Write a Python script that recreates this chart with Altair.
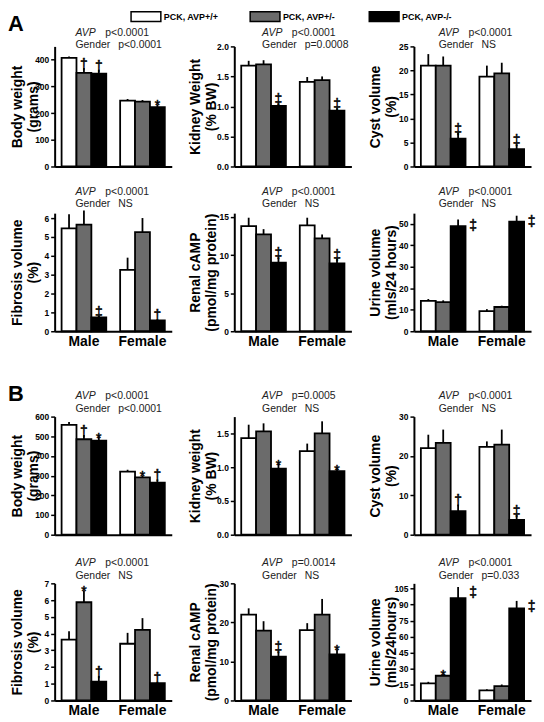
import altair as alt
import pandas as pd

GENOTYPES = ["PCK, AVP+/+", "PCK, AVP+/-", "PCK, AVP-/-"]
SEXES = ["Male", "Female"]
FILLS = ["#ffffff", "#6b6b6b", "#000000"]
FONT = "Liberation Sans"

# values order: Male +/+, Male +/-, Male -/-, Female +/+, Female +/-, Female -/-
# ---------------- Section A ----------------
body_a = [407, 351, 348, 247, 243, 222]
body_a_err = [5, 18, 15, 6, 6, 11]
body_a_sig = ["", "†", "†", "", "", "*"]

kidney_a = [1.68, 1.70, 1.01, 1.41, 1.44, 0.93]
kidney_a_err = [0.08, 0.07, 0.04, 0.08, 0.06, 0.04]
kidney_a_sig = ["", "", "‡", "", "", "‡"]

cyst_a = [21.0, 21.0, 5.8, 18.7, 19.4, 3.6]
cyst_a_err = [2.4, 1.9, 1.2, 2.3, 2.2, 1.0]
cyst_a_sig = ["", "", "‡", "", "", "‡"]

fib_a = [5.45, 5.65, 0.73, 3.25, 5.25, 0.58]
fib_a_err = [0.75, 0.75, 0.08, 0.65, 0.75, 0.06]
fib_a_sig = ["", "", "‡", "", "", "†"]

camp_a = [13.8, 12.7, 9.0, 13.9, 12.2, 8.9]
camp_a_err = [1.1, 0.7, 0.7, 1.0, 0.5, 0.6]
camp_a_sig = ["", "", "‡", "", "", "‡"]

urine_a = [14.1, 13.6, 49.0, 9.4, 11.3, 51.0]
urine_a_err = [0.9, 0.8, 3.0, 0.9, 0.6, 2.8]
urine_a_sig = ["", "", "‡", "", "", "‡"]

# ---------------- Section B ----------------
body_b = [558, 485, 478, 320, 291, 264]
body_b_err = [14, 22, 20, 10, 10, 17]
body_b_sig = ["", "†", "*", "", "*", "†"]

kidney_b = [1.43, 1.53, 0.98, 1.24, 1.50, 0.94]
kidney_b_err = [0.2, 0.12, 0.07, 0.11, 0.18, 0.04]
kidney_b_sig = ["", "", "*", "", "", "*"]

cyst_b = [22.0, 23.3, 6.0, 22.3, 22.9, 3.75]
cyst_b_err = [3.4, 3.4, 1.7, 1.4, 3.8, 1.25]
cyst_b_sig = ["", "", "†", "", "", "‡"]

fib_b = [3.63, 5.87, 1.12, 3.39, 4.22, 1.04]
fib_b_err = [0.5, 0.7, 0.35, 0.65, 0.7, 0.08]
fib_b_sig = ["", "*", "†", "", "", "†"]

camp_b = [22.0, 17.9, 11.2, 18.0, 22.0, 11.8]
camp_b_err = [1.6, 2.4, 1.4, 1.8, 4.0, 1.3]
camp_b_sig = ["", "", "‡", "", "", "*"]

urine_b = [16.0, 23.2, 96.0, 9.5, 13.5, 86.5]
urine_b_err = [1.5, 1.5, 10.5, 1.0, 1.5, 7.0]
urine_b_sig = ["", "*", "‡", "", "", "‡"]

# axis titles, tick values, p-value annotations
panels = [
    [
        dict(v=body_a, e=body_a_err, s=body_a_sig, title=["Body weight", "(grams)"],
             dmax=450, ticks=[0, 100, 200, 300, 400], fmt="d", avp="p<0.0001", gen="p<0.0001", label="A"),
        dict(v=kidney_a, e=kidney_a_err, s=kidney_a_sig, title=["Kidney Weight", "(% BW)"],
             dmax=2.0, ticks=[0, 0.5, 1.0, 1.5, 2.0], fmt=".1f", avp="p<0.0001", gen="p=0.0008"),
        dict(v=cyst_a, e=cyst_a_err, s=cyst_a_sig, title=["Cyst volume", "(%)"],
             dmax=25, ticks=[0, 5, 10, 15, 20, 25], fmt="d", avp="p<0.0001", gen="NS"),
    ],
    [
        dict(v=fib_a, e=fib_a_err, s=fib_a_sig, title=["Fibrosis volume", "(%)"],
             dmax=6.26, ticks=[0, 1, 2, 3, 4, 5, 6], fmt="d", avp="p<0.0001", gen="NS"),
        dict(v=camp_a, e=camp_a_err, s=camp_a_sig, title=["Renal cAMP", "(pmol/mg protein)"],
             dmax=15.5, ticks=[0, 5, 10, 15], fmt="d", avp="p<0.0001", gen="NS"),
        dict(v=urine_a, e=urine_a_err, s=urine_a_sig, title=["Urine volume", "(mls/24 hours)"],
             dmax=55, ticks=[0, 10, 20, 30, 40, 50], fmt="d", avp="p<0.0001", gen="NS", right=True),
    ],
    [
        dict(v=body_b, e=body_b_err, s=body_b_sig, title=["Body weight", "(grams)"],
             dmax=600, ticks=[0, 100, 200, 300, 400, 500, 600], fmt="d", avp="p<0.0001", gen="p<0.0001", label="B"),
        dict(v=kidney_b, e=kidney_b_err, s=kidney_b_sig, title=["Kidney weight", "(% BW)"],
             dmax=1.75, ticks=[0, 0.5, 1.0, 1.5], fmt=".1f", avp="p=0.0005", gen="NS"),
        dict(v=cyst_b, e=cyst_b_err, s=cyst_b_sig, title=["Cyst volume", "(%)"],
             dmax=30, ticks=[0, 10, 20, 30], fmt="d", avp="p<0.0001", gen="NS"),
    ],
    [
        dict(v=fib_b, e=fib_b_err, s=fib_b_sig, title=["Fibrosis volume", "(%)"],
             dmax=7, ticks=[0, 1, 2, 3, 4, 5, 6, 7], fmt="d", avp="p<0.0001", gen="NS"),
        dict(v=camp_b, e=camp_b_err, s=camp_b_sig, title=["Renal cAMP", "(pmol/mg protein)"],
             dmax=30, ticks=[0, 10, 20, 30], fmt="d", avp="p=0.0014", gen="NS"),
        dict(v=urine_b, e=urine_b_err, s=urine_b_sig, title=["Urine volume", "(mls/24hours)"],
             dmax=110, ticks=[0, 15, 30, 45, 60, 75, 90, 105], fmt="d", avp="p<0.0001", gen="p=0.033", right=True),
    ],
]

ROW_H = [121, 119, 119, 118]
ROW_TXT = [(-10, 2), (-18, -6), (-18, -5), (-17, -4)]
SPACERS = [47, 86, 49]
COL_TITLE_X = [-44, -46, -46]
COL_ANN_X = [21, 28, 25]
PANEL_W = 118


def text_layer(txt, x, y, size=10.5, italic=False, bold=False, color="#222222"):
    return alt.Chart(pd.DataFrame({"t": [txt]})).mark_text(
        align="left", baseline="alphabetic", font=FONT, fontSize=size,
        fontStyle="italic" if italic else "normal",
        fontWeight="bold" if bold else "normal", color=color,
    ).encode(x=alt.value(x), y=alt.value(y), text="t:N")


def make_panel(p, r, c):
    h = ROW_H[r]
    right = p.get("right", False)
    df = pd.DataFrame({
        "sex": [s for s in SEXES for _ in GENOTYPES],
        "geno": GENOTYPES * 2,
        "value": p["v"],
        "err": p["e"],
        "sig": p["s"],
    })
    df["top"] = df["value"] + df["err"]

    def kind(s):
        if s == "":
            return "none"
        if s == "*":
            return "star"
        if right and s == "‡":
            return "right"
        return "up"

    df["kind"] = df["sig"].map(kind)

    bottom = r in (1, 3)
    xax = alt.Axis(title=None, labels=bottom, ticks=False, domainColor="black", domainWidth=2,
                   labelFont=FONT, labelFontWeight="bold", labelFontSize=14, labelColor="black",
                   labelPadding=3, labelAngle=0)
    yax = alt.Axis(title=p["title"], values=p["ticks"], format=p["fmt"], grid=False,
                   domainColor="black", domainWidth=2, tickColor="black", tickWidth=1.5,
                   tickSize=4, labelPadding=2, labelFont=FONT, labelFontWeight="bold",
                   labelFontSize=8.5, labelColor="black", labelFlush=False,
                   titleFont=FONT, titleFontWeight="bold", titleFontSize=14, titleColor="black",
                   titleAngle=270, titleBaseline="top", titleAlign="center",
                   titleX=COL_TITLE_X[c], titleY=h / 2, titleLineHeight=16)
    X = alt.X("sex:N", sort=SEXES, axis=xax,
              scale=alt.Scale(paddingInner=0.237, paddingOuter=0.1186))
    XO = alt.XOffset("geno:N", sort=GENOTYPES, scale=alt.Scale(paddingInner=0, paddingOuter=0))
    yscale = alt.Scale(domain=[0, p["dmax"]], nice=False, zero=True)

    if r == 0 and c == 0:
        leg = alt.Legend(orient="none", legendX=86, legendY=-36, direction="horizontal", title=None,
                         symbolType="M-3,-1L3,-1L3,1L-3,1Z", symbolSize=100,
                         symbolStrokeColor="black", symbolStrokeWidth=1.5, symbolOpacity=1,
                         labelFont=FONT, labelFontWeight="bold", labelFontSize=9, labelColor="black",
                         labelOffset=12, columnPadding=29, gridAlign="all", padding=0)
    else:
        leg = None

    base = alt.Chart(df)
    bars = base.mark_bar(stroke="black", strokeWidth=1.8, opacity=1).encode(
        x=X, xOffset=XO,
        y=alt.Y("value:Q", scale=yscale, axis=yax),
        fill=alt.Fill("geno:N", sort=GENOTYPES,
                      scale=alt.Scale(domain=GENOTYPES, range=FILLS), legend=leg),
    )
    rules = base.mark_rule(color="black", strokeWidth=1.8).encode(
        x=X, xOffset=XO, y=alt.Y("value:Q", scale=yscale, axis=yax), y2="top:Q")
    sym_style = dict(font=FONT, fontSize=14, fill="black", stroke="black", strokeWidth=0.5)
    up = base.transform_filter("datum.kind == 'up'").mark_text(
        baseline="alphabetic", dy=1, **sym_style).encode(
        x=X, xOffset=XO, y=alt.Y("top:Q", scale=yscale, axis=yax), text="sig:N")
    star = base.transform_filter("datum.kind == 'star'").mark_text(
        baseline="alphabetic", dy=6, **sym_style).encode(
        x=X, xOffset=XO, y=alt.Y("top:Q", scale=yscale, axis=yax), text="sig:N")
    rgt = base.transform_filter("datum.kind == 'right'").mark_text(
        baseline="top", dx=15, dy=-1, **sym_style).encode(
        x=X, xOffset=XO, y=alt.Y("top:Q", scale=yscale, axis=yax), text="sig:N")

    ax = COL_ANN_X[c]
    y1, y2 = ROW_TXT[r]
    layers = [bars, rules, up, star, rgt,
              text_layer("AVP", ax, y1, italic=True),
              text_layer(p["avp"], ax + 30, y1),
              text_layer("Gender", ax, y2),
              text_layer(p["gen"], ax + 43, y2)]
    if "label" in p:
        layers.append(text_layer(p["label"], -47, -16, size=22, bold=True, color="black"))
    return alt.layer(*layers).properties(width=PANEL_W, height=h)


def spacer(hh):
    return alt.Chart(pd.DataFrame({"v": [0]})).mark_point(opacity=0).encode(
        x=alt.X("v:Q", axis=None), y=alt.Y("v:Q", axis=None)).properties(width=1, height=hh)


cells = []
for r in range(4):
    for c in range(3):
        cells.append(make_panel(panels[r][c], r, c))
    if r < 3:
        for c in range(3):
            cells.append(spacer(SPACERS[r]))

chart = alt.concat(
    *cells, columns=3, spacing={"row": 0, "column": 63}, bounds="flush", align="each"
).properties(padding=0).configure(font=FONT).configure_view(stroke=None)

chart.save("out.html", embed_options={"renderer": "svg", "actions": False})
